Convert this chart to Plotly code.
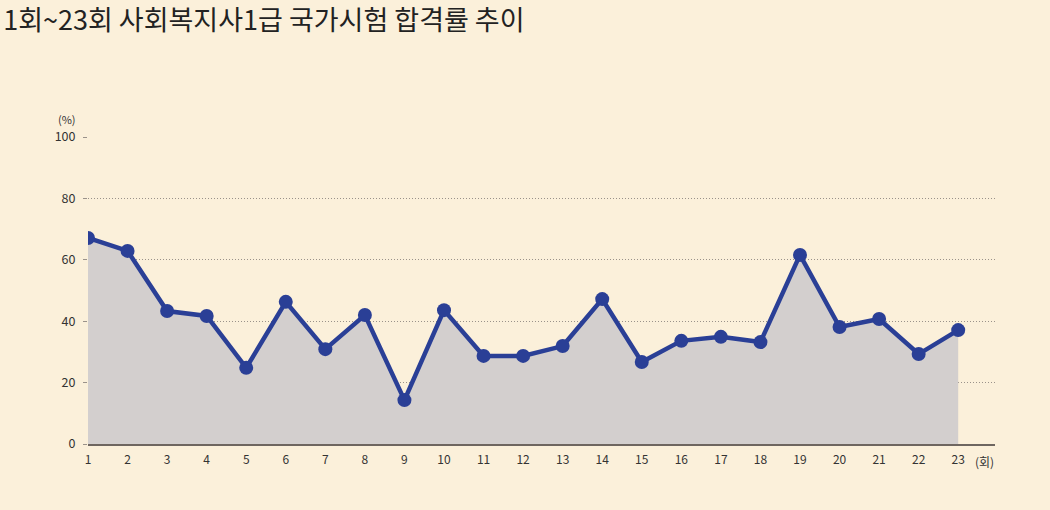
import plotly.graph_objects as go

rounds = list(range(1, 24))
x_labels = [str(r) for r in rounds]
pass_rate = [67.1, 62.9, 43.3, 41.7, 24.8, 46.3, 30.9, 42.0, 14.3, 43.6, 28.7, 28.7,
             31.9, 47.2, 26.7, 33.6, 34.9, 33.2, 61.6, 38.1, 40.7, 29.3, 37.1]
y_ticks = [0, 20, 40, 60, 80, 100]

bg = "#fbf0da"
line_col = "#2a3f96"
fill_col = "#d3cfce"
font_fam = "Noto Sans CJK KR, Noto Sans, sans-serif"

fig = go.Figure()
fig.add_trace(go.Scatter(
    x=rounds, y=pass_rate, mode="lines+markers",
    fill="tozeroy", fillcolor=fill_col,
    line=dict(color=line_col, width=4.5),
    marker=dict(color=line_col, size=14),
    hoverinfo="x+y", showlegend=False,
))

fig.update_layout(
    width=1050, height=510,
    paper_bgcolor=bg, plot_bgcolor=bg,
    margin=dict(l=88, r=55, t=137, b=66),
    font=dict(family=font_fam, color="#333333", size=12),
    title=dict(text="1회~23회 사회복지사1급 국가시험 합격률 추이",
               x=0.003, xref="container", xanchor="left", y=0.96, yref="container", yanchor="middle",
               font=dict(size=27, color="#222222", family=font_fam),
               pad=dict(l=0, t=0)),
    xaxis=dict(range=[1, 23.93], tickvals=rounds, ticktext=x_labels,
               showgrid=False, zeroline=False, showline=True,
               linecolor="#6e6660", linewidth=1.5, ticks="", ticklen=0,
               ticklabelstandoff=4,
               tickfont=dict(size=12, color="#333333")),
    yaxis=dict(range=[0, 100], tickvals=y_ticks, showgrid=True,
               gridcolor="#9a928a", griddash="1px,2px", gridwidth=1,
               zeroline=False, showline=False, ticks="outside", ticklen=4,
               ticklabelstandoff=5,
               tickcolor="#9a928a", tickfont=dict(size=12.5, color="#333333")),
    annotations=[
        dict(text="(%)", xref="paper", yref="paper", x=-0.023, y=1.025,
             xanchor="center", yanchor="bottom", showarrow=False,
             font=dict(size=11, color="#333333")),
        dict(text="(회)", xref="paper", yref="paper", x=0.976, y=-0.022,
             xanchor="left", yanchor="top", showarrow=False,
             font=dict(size=12, color="#333333")),
    ],
)

fig.write_html("out.html", config={"displayModeBar": False},
               post_script="document.body.style.margin='0px';")
